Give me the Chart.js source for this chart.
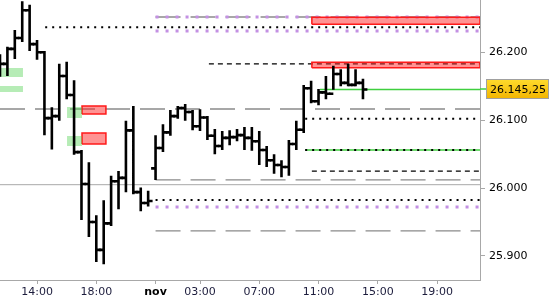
<!DOCTYPE html>
<html><head><meta charset="utf-8">
<script src="https://cdn.jsdelivr.net/npm/chart.js@4.4.1/dist/chart.umd.min.js"></script>
<style>html,body{margin:0;padding:0;background:#fff}canvas{display:block}</style>
</head><body>
<canvas id="c" width="550" height="300"></canvas>
<script>
// ---- data (bar slots: one slot = one 30-minute bar, sessions compressed) ----
const slots  = [-5,-4,-3,-2,-1,0,1,2,3,4,5,6,7,8,9,10,11,12,13,14,15,16,17,18,19,20,21,22,23,24,25,26,27,28,29,30,31,32,33,34,35,36,37,38,39,40,41,42,43,44];
const opens  = [26174,26183,26205,26221,26262,26212,26200,26103,26106,26165,26137,26053,26006,25950,25909,25948,26010,26015,26085,25994,25978,26029,26059,26082,26106,26118,26112,26091,26104,26077,26062,26074,26075,26078,26074,26069,26056,26041,26034,26031,26065,26086,26147,26128,26141,26139,26168,26155,26152,26155];
const highs  = [26197,26208,26233,26275,26270,26218,26202,26119,26183,26186,26159,26056,26038,25960,25982,26018,26025,26099,26121,26001,25996,26078,26094,26115,26121,26124,26115,26116,26106,26087,26084,26085,26087,26090,26090,26084,26062,26050,26041,26071,26099,26152,26158,26146,26165,26180,26175,26183,26175,26161];
const lows   = [26164,26165,26190,26215,26202,26189,26078,26057,26099,26131,26049,25953,25928,25891,25888,25944,25969,25994,25991,25966,25973,26012,26053,26077,26102,26099,26085,26084,26071,26050,26056,26063,26069,26056,26055,26034,26031,26021,26016,26018,26056,26081,26125,26122,26131,26145,26150,26150,26150,26131];
const closes = [26183,26205,26221,26262,26212,26200,26103,26106,26165,26137,26053,26006,25950,25909,25948,26010,26015,26085,25994,25978,25981,26059,26082,26106,26118,26112,26091,26104,26077,26062,26074,26075,26078,26074,26069,26056,26041,26034,26031,26065,26086,26147,26128,26141,26139,26168,26155,26152,26155,26145.25];

const xTickSlots  = [0, 8, 16, 22, 30, 38, 46, 54];
const xTickLabels = ['14:00','18:00','nov','03:00','07:00','11:00','15:00','19:00'];
const yTicks = [25900, 26000, 26100, 26200];

// horizontal levels: [price, start slot]
const grayDashLevels  = [[26116.5,-5],[26252,16],[26012,16],[25937,16]];
const graySolidLevels = [[26005,-5]];
const blackDotLevels  = [[26237,1.1],[26102,36.2],[26056,36.2],[25982.5,16]];
const blackDashLevels = [[26183,23.2],[26025,37.1]];
const purpleDotLevels = [[26252,16],[26231.5,16],[25972,16]];
const greenLineLevels = [[26145.25,38.2],[26056,36.2]];
// zones: [x from, x to, price low, price high]
const greenZones = [[-5,-1.9,26163.6,26177],[-5,-1.9,26141.5,26150.4],[4.05,6.07,26103.2,26119.4],[4.05,6.07,26062,26076.7]];
const redZones   = [[6.07,9.3,26109.1,26121],[6.07,9.3,26065,26081],[37.1,59.8,26241.2,26251.5],[37.1,59.8,26177.3,26185.3]];

const xMin = -5, xMax = 59.8, yMin = 25864.65, yMax = 26277;
const TICK = 0.6;

function fmt(v, dec){
  let s = v.toFixed(dec); let [i,f] = s.split('.');
  i = i.replace(/\B(?=(\d{3})+(?!\d))/g,'.');
  return f ? i + ',' + f : i;
}

function segs(kind){
  const pts = [];
  slots.forEach((s,i)=>{
    if (kind==='hl') pts.push({x:s,y:lows[i]},{x:s,y:highs[i]});
    else if (kind==='o') pts.push({x:s-TICK,y:opens[i]},{x:s,y:opens[i]});
    else pts.push({x:s,y:closes[i]},{x:s+TICK,y:closes[i]});
    pts.push({x:s,y:null});
  });
  return pts;
}
const base = {pointRadius:0, pointHoverRadius:0, tension:0, fill:false, spanGaps:false, borderCapStyle:'butt'};
const datasets = [];
datasets.push(Object.assign({}, base, {data:segs('hl'), borderColor:'#000', borderWidth:2.6, order:0}));
datasets.push(Object.assign({}, base, {data:segs('o'), borderColor:'#000', borderWidth:2.6, order:0}));
datasets.push(Object.assign({}, base, {data:segs('c'), borderColor:'#000', borderWidth:2.6, order:0}));

function hl(levels, style, order){
  levels.forEach(([p,from])=>{
    datasets.push(Object.assign({}, base, {data:[{x:from,y:p},{x:xMax,y:p}], order}, style));
  });
}
hl(grayDashLevels,  {borderColor:'#8a8a8a', borderWidth:1.3, borderDash:[25,10]}, 6);
hl(graySolidLevels, {borderColor:'#a8a8a8', borderWidth:1}, 6);
hl(greenLineLevels, {borderColor:'#3fcf3f', borderWidth:1.5}, 5);
hl(purpleDotLevels, {borderColor:'#c390e3', borderWidth:3, borderDash:[3,7]}, 4);
hl(blackDotLevels,  {borderColor:'#000', borderWidth:2, borderDash:[2,5]}, 3);
hl(blackDashLevels, {borderColor:'#000', borderWidth:1.4, borderDash:[5,4]}, 3);

function zones(list, style){
  list.forEach(([x1,x2,p1,p2])=>{
    datasets.push(Object.assign({}, base, {
      data:[{x:x1,y:p1},{x:x2,y:p1},{x:x2,y:p2},{x:x1,y:p2},{x:x1,y:p1}],
      fill:'shape', order:1}, style));
  });
}
zones(greenZones, {backgroundColor:'rgba(80,210,80,0.42)', borderWidth:0, borderColor:'rgba(0,0,0,0)'});
zones(redZones, {backgroundColor:'rgba(255,40,40,0.5)', borderColor:'#ff1a1a', borderWidth:1.5});

const priceTag = {
  id:'priceTag',
  afterDraw(chart){
    const {ctx, chartArea} = chart; const y = chart.scales.y;
    const v = closes[closes.length-1];
    const py = Math.round(y.getPixelForValue(v));
    const x0 = chartArea.right + 6, w = 63, h = 20;
    ctx.save();
    ctx.strokeStyle = '#3fcf3f'; ctx.lineWidth = 1.5;
    ctx.beginPath(); ctx.moveTo(chartArea.right, py); ctx.lineTo(x0, py); ctx.stroke();
    const g = ctx.createLinearGradient(0, py-h/2, 0, py+h/2);
    g.addColorStop(0,'#ffdc2e'); g.addColorStop(1,'#f2b400');
    ctx.fillStyle = g; ctx.fillRect(x0, py-h/2, w, h);
    ctx.strokeStyle = '#a0a0a0'; ctx.lineWidth = 1;
    ctx.strokeRect(x0+0.5, py-h/2+0.5, w-1, h-1);
    ctx.fillStyle = '#000'; ctx.font = '11px "DejaVu Sans"'; ctx.textBaseline = 'middle'; ctx.textAlign = 'left';
    ctx.fillText(fmt(v,2), x0+4, py+1);
    ctx.restore();
  }
};

function noPad(sc){ sc.paddingTop = 0; sc.paddingBottom = 0; sc.paddingLeft = 0; sc.paddingRight = 0; }

new Chart(document.getElementById('c'), {
  type:'line',
  data:{datasets},
  plugins:[priceTag],
  options:{
    responsive:false, animation:false, events:[],
    devicePixelRatio:1,
    layout:{padding:0},
    plugins:{legend:{display:false}, tooltip:{enabled:false}},
    scales:{
      x:{type:'linear', position:'bottom', min:xMin, max:xMax,
        grid:{drawOnChartArea:false, drawTicks:true, tickLength:4, color:'#a8a8a8'},
        border:{display:true, color:'#a8a8a8', width:1},
        ticks:{autoSkip:false, maxRotation:0, padding:2,
          color:(c)=> c.tick && c.tick.value===16 ? '#000' : '#1c1c3c',
          font:(c)=>({family:'DejaVu Sans', size:11, weight:(c.tick && c.tick.value===16) ? 'bold' : 'normal'}),
          callback:(v)=>{ const k = xTickSlots.indexOf(v); return k>=0 ? xTickLabels[k] : ''; }},
        afterBuildTicks:(sc)=>{ sc.ticks = xTickSlots.map(v=>({value:v})); },
        afterFit:(sc)=>{ sc.height = 20; noPad(sc); }
      },
      y:{type:'linear', position:'right', min:yMin, max:yMax,
        grid:{drawOnChartArea:false, drawTicks:true, tickLength:5, color:'#a8a8a8'},
        border:{display:true, color:'#a8a8a8', width:1},
        ticks:{padding:4, color:'#000', font:{family:'DejaVu Sans', size:11},
          callback:(v)=>fmt(v,0)},
        afterBuildTicks:(sc)=>{ sc.ticks = yTicks.map(v=>({value:v})); },
        afterFit:(sc)=>{ sc.width = 70; noPad(sc); }
      }
    }
  }
});
</script>
</body></html>
